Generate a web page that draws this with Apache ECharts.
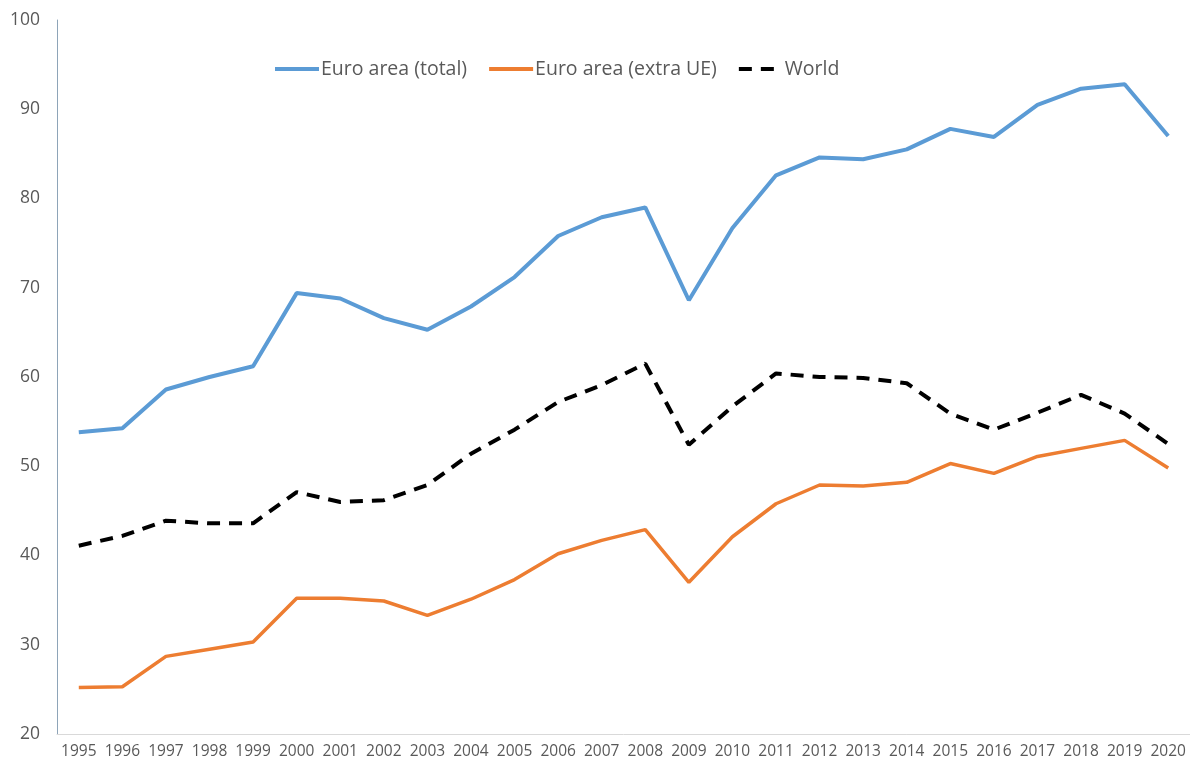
<!DOCTYPE html>
<html>
<head>
<meta charset="utf-8">
<script src="https://cdn.jsdelivr.net/npm/echarts@6/dist/echarts.min.js"></script>
<style>html,body{margin:0;padding:0;background:#fff}#c{width:1190px;height:765px}</style>
</head>
<body>
<div id="c"></div>
<script>
const years = ['1995','1996','1997','1998','1999','2000','2001','2002','2003','2004','2005','2006','2007','2008','2009','2010','2011','2012','2013','2014','2015','2016','2017','2018','2019','2020'];
const euroTotal = [53.8,54.25,58.6,60.0,61.2,69.4,68.8,66.6,65.3,67.9,71.2,75.8,77.9,79.0,68.6,76.7,82.6,84.6,84.4,85.5,87.8,86.9,90.5,92.3,92.8,87.0];
const euroExtra = [25.2,25.3,28.7,29.5,30.3,35.2,35.2,34.9,33.3,35.1,37.3,40.2,41.7,42.9,37.0,42.1,45.8,47.9,47.8,48.2,50.3,49.2,51.1,52.0,52.9,49.8];
const world = [41.1,42.2,43.9,43.6,43.6,47.1,46.0,46.2,47.9,51.4,54.1,57.2,59.1,61.5,52.4,56.7,60.4,60.0,59.9,59.3,55.9,54.1,56.0,58.0,55.9,52.5];
const seriesNames = ['Euro area (total)','Euro area (extra UE)','World'];

const chart = echarts.init(document.getElementById('c'));
const font = '"Open Sans", "Liberation Sans", sans-serif';
chart.setOption({
  animation: false,
  textStyle: {fontFamily: font},
  legend: {
    left: 268, top: 54,
    itemWidth: 44, itemHeight: 12, itemGap: 20,
    itemStyle: {opacity: 0},
    lineStyle: {width: 4},
    textStyle: {fontSize: 19.5, color: '#595959', fontFamily: font, padding: [0,0,0,-3]},
    data: seriesNames
  },
  grid: {left: 57, right: -3, top: 20, bottom: 31, containLabel: false},
  xAxis: {
    type: 'category', data: years, boundaryGap: true,
    axisLine: {lineStyle: {color: '#d9d9d9', width: 1}},
    axisTick: {show: false},
    axisLabel: {color: '#595959', fontSize: 15.5, margin: 10, interval: 0, fontFamily: font}
  },
  yAxis: {
    type: 'value', min: 20, max: 100, interval: 10,
    axisLine: {show: true, lineStyle: {color: '#8ea4b8', width: 1}},
    axisTick: {show: false},
    splitLine: {show: false},
    axisLabel: {color: '#595959', fontSize: 17.5, margin: 17, fontFamily: font}
  },
  series: [
    {name: seriesNames[0], type: 'line', data: euroTotal, symbol: 'none',
     lineStyle: {color: '#5b9bd5', width: 4}, itemStyle: {color: '#5b9bd5'}},
    {name: seriesNames[1], type: 'line', data: euroExtra, symbol: 'none',
     lineStyle: {color: '#ed7d31', width: 3.5}, itemStyle: {color: '#ed7d31'}},
    {name: seriesNames[2], type: 'line', data: world, symbol: 'none',
     lineStyle: {color: '#000000', width: 4, type: [13, 9]}, itemStyle: {color: '#000000'}}
  ]
});
</script>
</body>
</html>
